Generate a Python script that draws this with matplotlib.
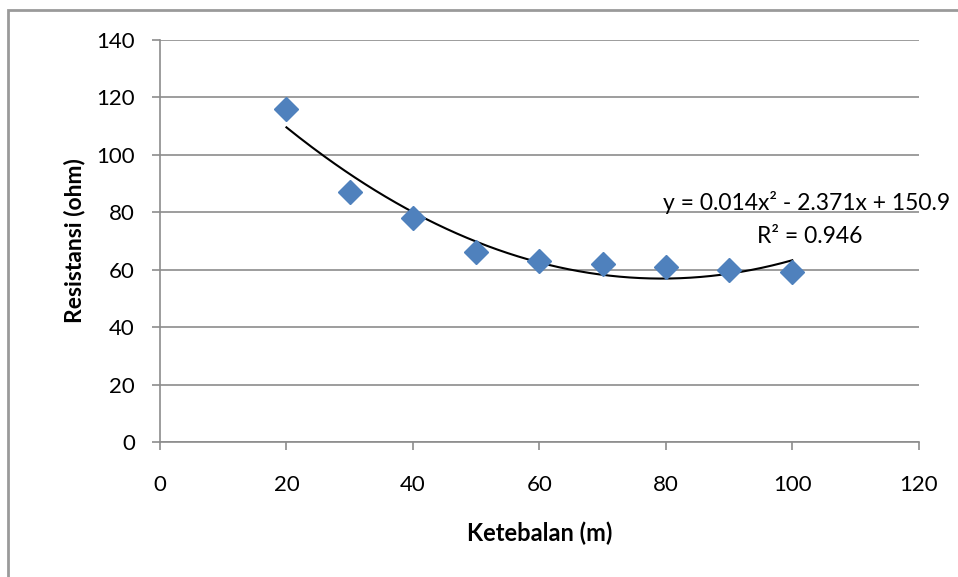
import numpy as np
import matplotlib
matplotlib.use("Agg")
import matplotlib.pyplot as plt
from matplotlib.patches import Rectangle

# data
ketebalan = [20, 30, 40, 50, 60, 70, 80, 90, 100]
resistansi = [116, 87, 78, 66, 63, 62, 61, 60, 59]

x_ticks = [0, 20, 40, 60, 80, 100, 120]
y_ticks = [0, 20, 40, 60, 80, 100, 120, 140]

plt.rcParams['font.family'] = ['Lato', 'DejaVu Sans']

fig = plt.figure(figsize=(9.58, 5.77), dpi=100)
ax = fig.add_axes([0.167, 0.234, 0.792, 0.697])

grid_col = '#8c8c8c'
ax.set_xlim(0, 120)
ax.set_ylim(0, 140)
ax.set_xticks(x_ticks)
ax.set_yticks(y_ticks)
ax.grid(axis='y', color=grid_col, linewidth=1.2)
ax.set_axisbelow(True)
for s in ['top', 'right']:
    ax.spines[s].set_visible(False)
for s in ['left', 'bottom']:
    ax.spines[s].set_color(grid_col)
    ax.spines[s].set_linewidth(1.2)
ax.tick_params(axis='both', direction='out', length=6, width=1.2, color=grid_col,
               labelsize=16)
ax.tick_params(axis='x', pad=18)
ax.tick_params(axis='y', pad=12)

# polynomial trendline (order 2)
coef = np.polyfit(ketebalan, resistansi, 2)
xs = np.linspace(min(ketebalan), max(ketebalan), 200)
ax.plot(xs, np.polyval(coef, xs), color='black', linewidth=1.5, zorder=2)

ax.plot(ketebalan, resistansi, linestyle='none', marker='D', markersize=12,
        color='#4f81bd', markeredgecolor='#4f81bd', zorder=3)

ax.text(79.5, 83.2, 'y = 0.014x² - 2.371x + 150.9', fontsize=16.5,
        ha='left', va='center', clip_on=False)
ax.text(102.8, 71.7, 'R² = 0.946', fontsize=16.5, ha='center', va='center')

ax.set_xlabel('Ketebalan (m)', fontsize=17, fontweight='bold', labelpad=19)
ax.set_ylabel('Resistansi (ohm)', fontsize=16.5, fontweight='bold', labelpad=8)

# chart area border
fig.patches.append(Rectangle((8 / 958, -0.05), 1.1, 1 - 10 / 577 + 0.05,
                             transform=fig.transFigure, fill=False,
                             edgecolor='#9a9a9a', linewidth=2))

fig.savefig('out.png', dpi=100)
